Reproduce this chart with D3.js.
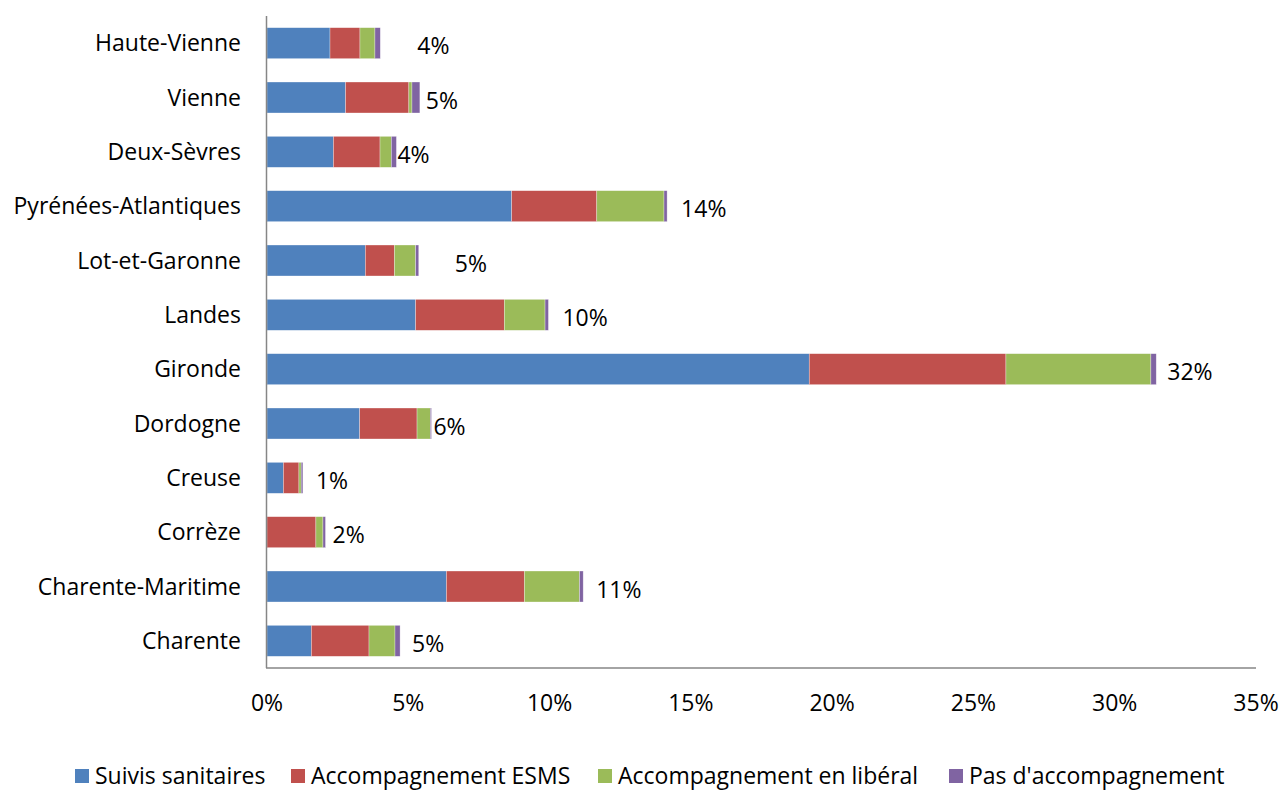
<!DOCTYPE html>
<html>
<head>
<meta charset="utf-8">
<title>Accompagnement par département</title>
<script src="https://cdn.jsdelivr.net/npm/d3@7"></script>
<style>
  body { margin: 0; background: #fff; }
  text { font-family: "Open Sans", "Noto Sans", sans-serif; fill: #000; }
</style>
</head>
<body>
<div id="chart"></div>
<script>
// données (en % du total)
var departements = ["Haute-Vienne", "Vienne", "Deux-Sèvres", "Pyrénées-Atlantiques", "Lot-et-Garonne",
  "Landes", "Gironde", "Dordogne", "Creuse", "Corrèze", "Charente-Maritime", "Charente"];
var series = ["Suivis sanitaires", "Accompagnement ESMS", "Accompagnement en libéral", "Pas d'accompagnement"];
var suivis   = [2.23, 2.78, 2.35, 8.66, 3.48, 5.26, 19.19, 3.28, 0.58, 0.00, 6.35, 1.57];
var esms     = [1.06, 2.24, 1.65, 3.01, 1.03, 3.14,  6.96, 2.03, 0.55, 1.73, 2.76, 2.04];
var liberal  = [0.53, 0.11, 0.40, 2.38, 0.75, 1.44,  5.13, 0.47, 0.08, 0.25, 1.95, 0.92];
var aucun    = [0.19, 0.28, 0.18, 0.11, 0.11, 0.12,  0.19, 0.04, 0.06, 0.09, 0.13, 0.18];
var totaux   = ["4%", "5%", "4%", "14%", "5%", "10%", "32%", "6%", "1%", "2%", "11%", "5%"];
var ticks    = [0, 5, 10, 15, 20, 25, 30, 35];

// décalage des étiquettes (placées à la main dans l'original)
var labelNudge = [37, 6, 1, 14, 36, 14, 11, 2, 13, 7, 13, 12];
var colors = ["#4F81BD", "#C0504D", "#9BBB59", "#8064A2"];

var w = 1283, h = 791;
var mLeft = 267, mRight = 1256, mTop = 16, mBottom = 668;
var fs = 23;

var svg = d3.select("#chart").append("svg")
  .attr("width", w).attr("height", h);

var x = d3.scaleLinear().domain([0, 35]).range([mLeft, mRight]);
var y = d3.scaleBand().domain(departements).range([mTop, mBottom]).paddingInner(0.43).paddingOuter(0.215);

var rows = departements.map(function(d, i) {
  return { dep: d, suivis: suivis[i], esms: esms[i], liberal: liberal[i], aucun: aucun[i] };
});
var keys = ["suivis", "esms", "liberal", "aucun"];
var stacked = d3.stack().keys(keys)(rows);

svg.append("g").selectAll("g")
  .data(stacked).enter().append("g")
  .attr("fill", function(d, i) { return colors[i]; })
  .selectAll("rect")
  .data(function(d) { return d; }).enter().append("rect")
  .attr("x", function(d) { return x(d[0]); })
  .attr("y", function(d) { return y(d.data.dep); })
  .attr("width", function(d) { return Math.max(0, x(d[1]) - x(d[0])); })
  .attr("height", y.bandwidth())
  .attr("stroke", "#fff").attr("stroke-opacity", 0.5).attr("stroke-width", 0.6);

// axes
svg.append("line").attr("x1", mLeft - 0.5).attr("x2", mLeft - 0.5).attr("y1", mTop).attr("y2", mBottom)
  .attr("stroke", "#868686").attr("stroke-width", 1.5);
svg.append("line").attr("x1", mLeft - 1).attr("x2", mRight).attr("y1", mBottom).attr("y2", mBottom)
  .attr("stroke", "#868686").attr("stroke-width", 1.5);

svg.append("g").selectAll("text").data(departements).enter().append("text")
  .attr("x", 241).attr("y", function(d) { return y(d) + y.bandwidth() / 2; })
  .attr("dy", "0.35em").attr("text-anchor", "end").attr("font-size", fs)
  .text(function(d) { return d; });

svg.append("g").selectAll("text").data(ticks).enter().append("text")
  .attr("x", function(d) { return x(d); }).attr("y", 711)
  .attr("text-anchor", "middle").attr("font-size", fs)
  .text(function(d) { return d + "%"; });

// étiquettes des totaux
svg.append("g").selectAll("text").data(rows).enter().append("text")
  .attr("x", function(d, i) { return x(d.suivis + d.esms + d.liberal + d.aucun) + labelNudge[i]; })
  .attr("y", function(d) { return y(d.dep) + y.bandwidth() / 2 + 3; })
  .attr("dy", "0.35em").attr("font-size", fs)
  .text(function(d, i) { return totaux[i]; });

// légende
var legendX = [75, 291, 598, 949];
var lg = svg.append("g").selectAll("g").data(series).enter().append("g")
  .attr("transform", function(d, i) { return "translate(" + legendX[i] + ",769)"; });
lg.append("rect").attr("width", 14).attr("height", 14)
  .attr("fill", function(d, i) { return colors[i]; });
lg.append("text").attr("x", 20).attr("y", 7).attr("dy", "0.35em").attr("font-size", fs)
  .text(function(d) { return d; });
</script>
</body>
</html>
